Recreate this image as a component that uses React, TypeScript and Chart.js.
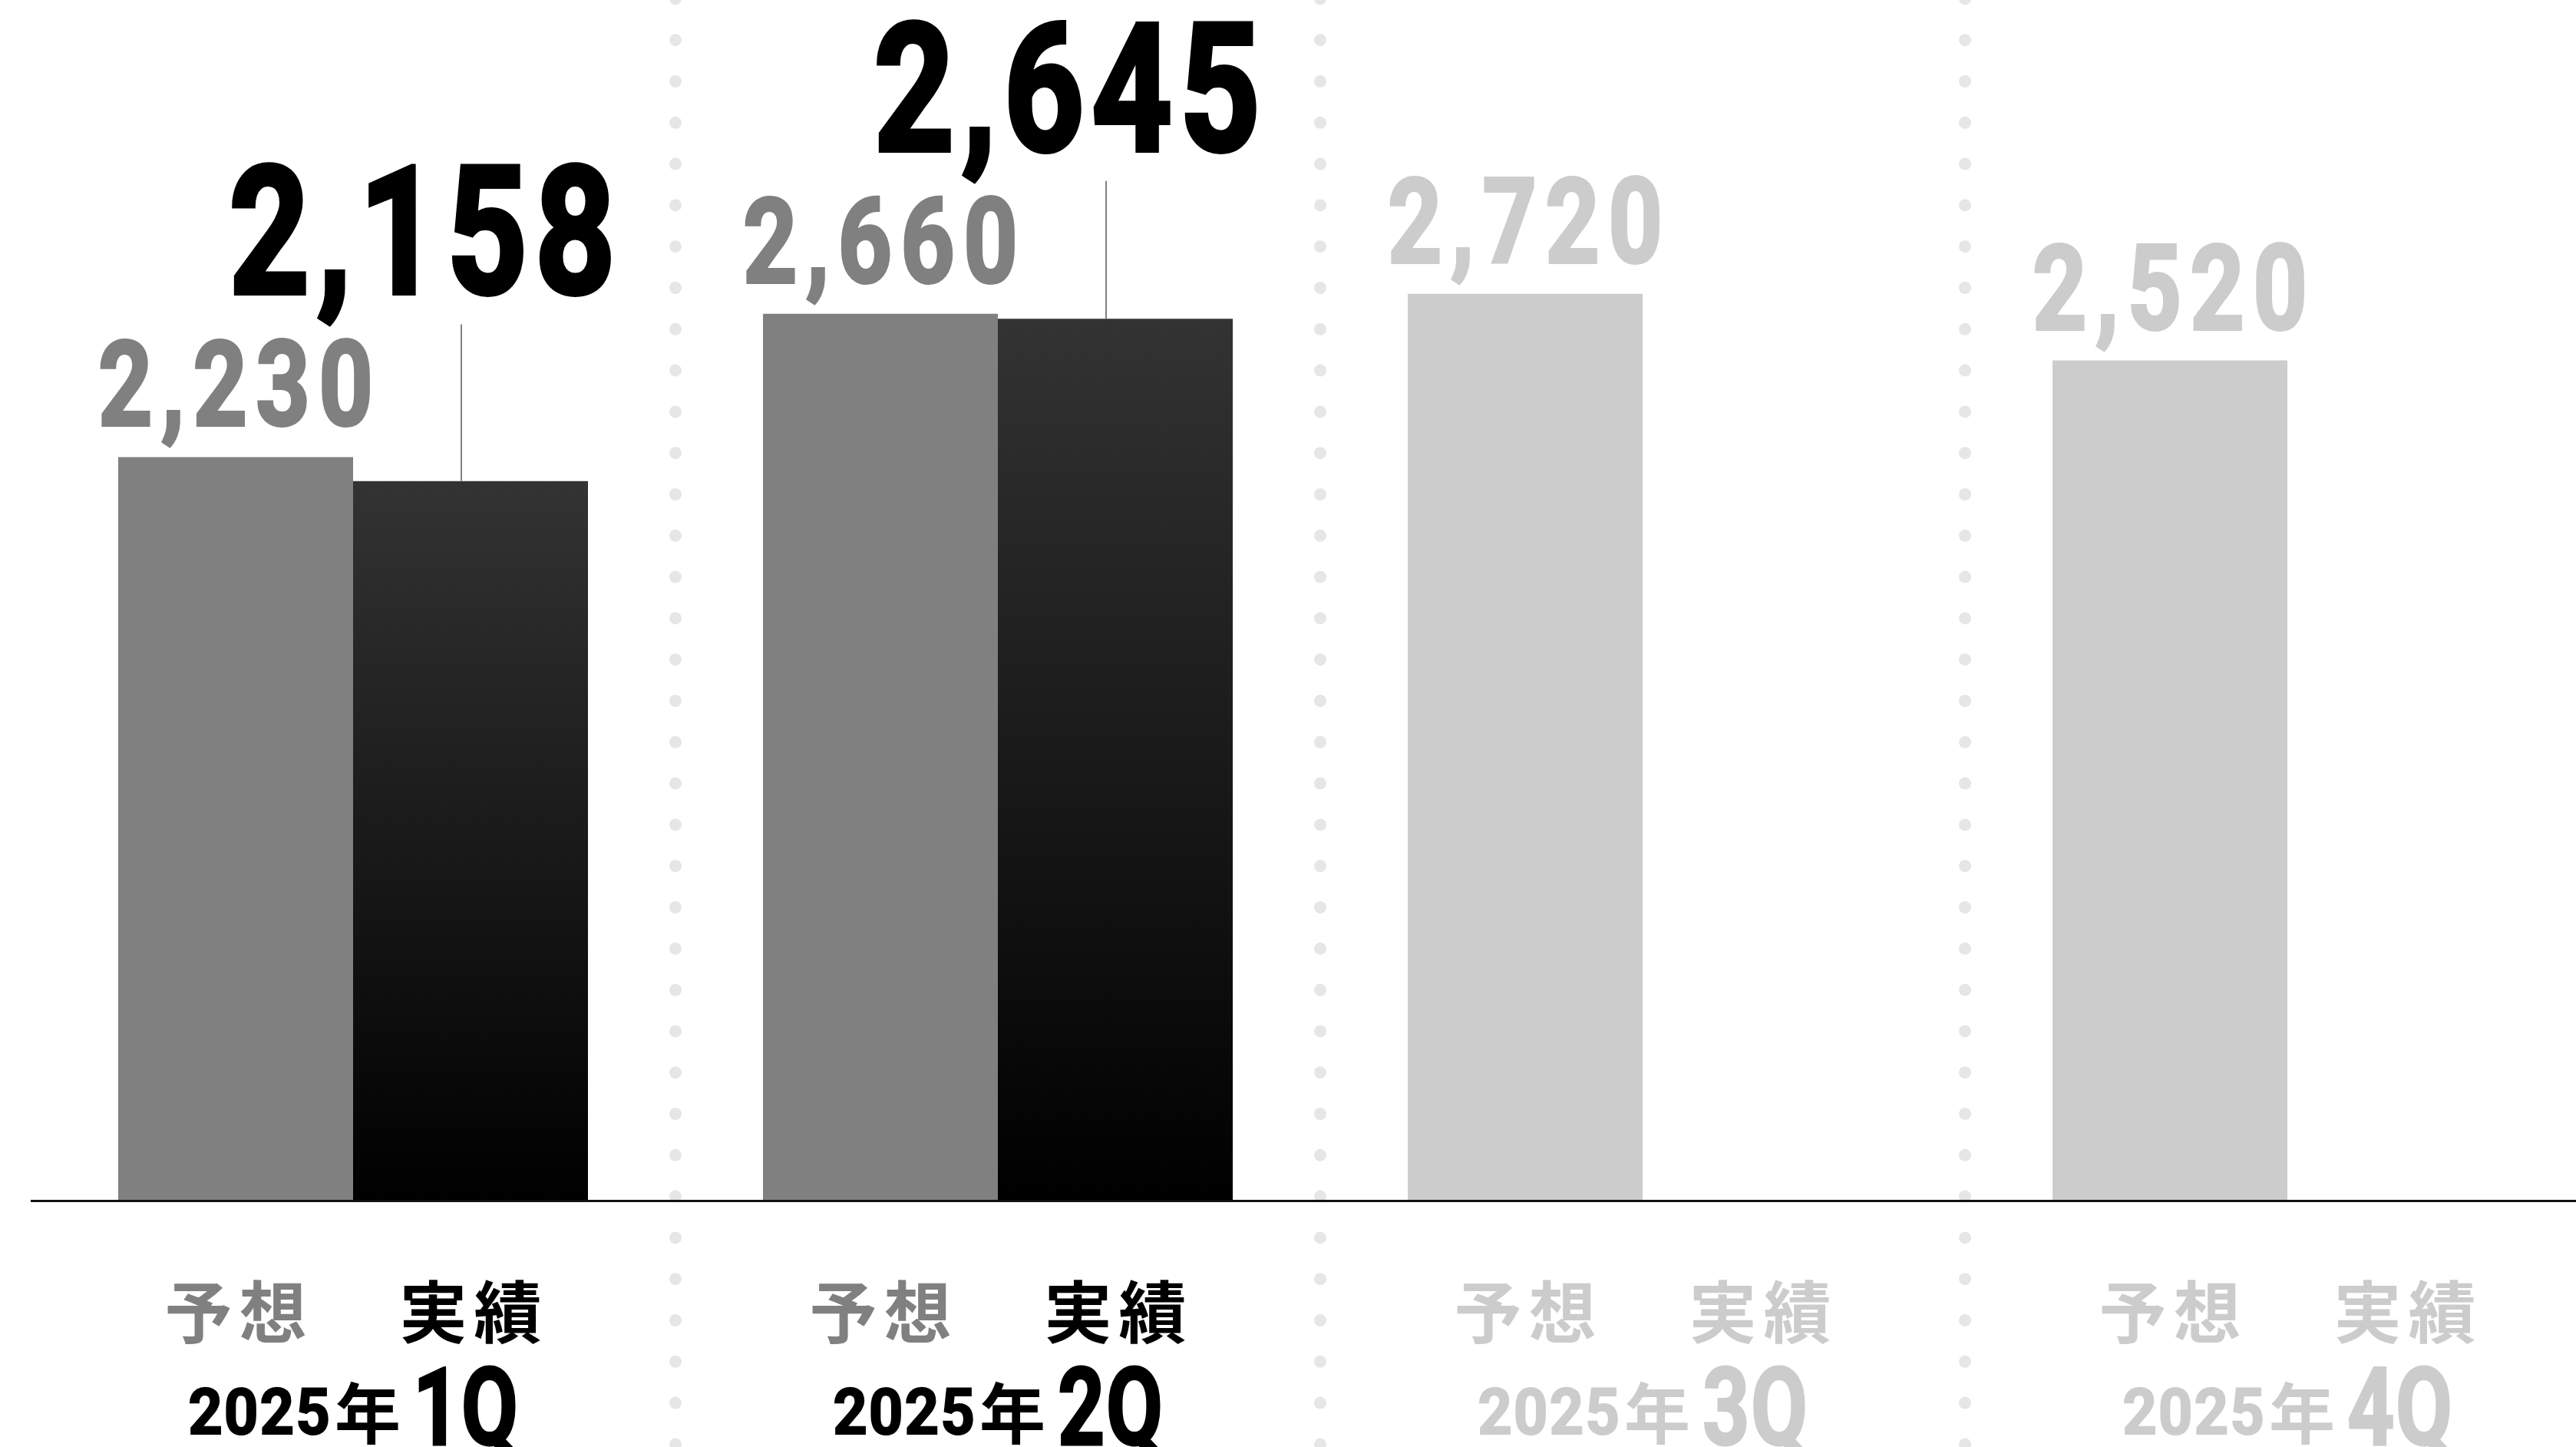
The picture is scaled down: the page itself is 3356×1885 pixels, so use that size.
import React, { useEffect, useRef } from 'react';
import { Chart, registerables } from 'chart.js';

Chart.register(...registerables);

// ---- data ----
const years = ['2025年', '2025年', '2025年', '2025年'];
const quarters = ['1Q', '2Q', '3Q', '4Q'];
const seriesNames = ['予想', '実績'];
const forecastValues = [2230, 2660, 2720, 2520];
const actualValues: (number | null)[] = [2158, 2645, null, null];
const yMax = 3600;

// ---- styles ----
const GRAY = '#808080';
const PALE = '#cccccc';
const BLACK = '#000000';
const DOT = '#e6e6e6';
const NUM_FONT = 'Roboto, "Liberation Sans", sans-serif';
const CJK_FONT = '"Noto Sans CJK JP", "Noto Sans CJK SC", sans-serif';
const CAT_PCT = 612 / 840;

const isDone = (i: number) => actualValues[i] != null;

function textWidth(ctx: CanvasRenderingContext2D, text: string, font: string, ls: number, sx = 1) {
  ctx.font = font;
  (ctx as any).letterSpacing = '0px';
  const w0 = ctx.measureText(text).width;
  return (w0 + ls * (text.length - 1)) * sx;
}

function drawAt(ctx: CanvasRenderingContext2D, text: string, left: number, y: number, font: string, color: string, ls: number, sx = 1, baseline: CanvasTextBaseline = 'alphabetic', stroke = 0) {
  ctx.save();
  ctx.translate(left, y);
  ctx.scale(sx, 1);
  ctx.font = font;
  (ctx as any).letterSpacing = ls + 'px';
  ctx.fillStyle = color;
  ctx.textAlign = 'left';
  ctx.textBaseline = baseline;
  ctx.fillText(text, 0, 0);
  if (stroke > 0) {
    ctx.strokeStyle = color;
    ctx.lineWidth = stroke;
    ctx.lineJoin = 'miter';
    ctx.strokeText(text, 0, 0);
  }
  ctx.restore();
}

function drawCentered(ctx: CanvasRenderingContext2D, text: string, cx: number, y: number, font: string, color: string, ls: number, sx = 1, baseline: CanvasTextBaseline = 'alphabetic', stroke = 0) {
  const w = textWidth(ctx, text, font, ls, sx);
  drawAt(ctx, text, cx - w / 2, y, font, color, ls, sx, baseline, stroke);
}

const decoPlugin = {
  id: 'deco',
  beforeDatasetsDraw(chart: any) {
    const { ctx, scales } = chart;
    const x = scales.x;
    ctx.save();
    ctx.fillStyle = DOT;
    for (let i = 1; i < quarters.length; i++) {
      const bx = (x.getPixelForValue(i - 1) + x.getPixelForValue(i)) / 2;
      for (let n = -2; n < 37; n++) {
        const cy = 106 + 53.8 * n;
        ctx.beginPath();
        ctx.arc(bx, cy, 8, 0, Math.PI * 2);
        ctx.fill();
      }
    }
    ctx.restore();
  },
  afterDatasetsDraw(chart: any) {
    const { ctx, scales, chartArea } = chart;
    const x = scales.x;
    const y = scales.y;
    const base = y.getPixelForValue(0);
    ctx.save();

    // baseline
    ctx.strokeStyle = '#111111';
    ctx.lineWidth = 3;
    ctx.beginPath();
    ctx.moveTo(chartArea.left, base + 1.5);
    ctx.lineTo(chart.width, base + 1.5);
    ctx.stroke();

    const meta0 = chart.getDatasetMeta(0);
    const meta1 = chart.getDatasetMeta(1);
    const slot = (x.width / quarters.length) * CAT_PCT / 2;

    for (let i = 0; i < quarters.length; i++) {
      const done = isDone(i);
      const el0 = meta0.data[i];
      // forecast value label
      drawCentered(ctx, forecastValues[i].toLocaleString('en-US'), el0.x, el0.y - 41,
        `bold 154px ${NUM_FONT}`, done ? GRAY : PALE, 14, 0.8, 'alphabetic', 4);

      // actual value label + leader line
      if (done) {
        const el1 = meta1.data[i];
        const lblBase = el0.y - 213;
        drawCentered(ctx, (actualValues[i] as number).toLocaleString('en-US'), el1.x - 63, lblBase,
          `bold 232px ${NUM_FONT}`, BLACK, 12, 0.79, 'alphabetic', 6);
        ctx.strokeStyle = GRAY;
        ctx.lineWidth = 2;
        ctx.beginPath();
        ctx.moveTo(el1.x - 12, lblBase + 40);
        ctx.lineTo(el1.x - 12, el1.y);
        ctx.stroke();
      }

      // category labels
      const cx = x.getPixelForValue(i);
      drawCentered(ctx, seriesNames[0], cx - slot / 2, base + 146, `bold 88px ${CJK_FONT}`, done ? GRAY : PALE, 9, 1, 'middle');
      drawCentered(ctx, seriesNames[1], cx + slot / 2, base + 146, `bold 88px ${CJK_FONT}`, done ? BLACK : PALE, 9, 1, 'middle');

      const color = done ? BLACK : PALE;
      const m = years[i].match(/^(\d+)(.*)$/);
      const digits = m ? m[1] : years[i];
      const suffix = m ? m[2] : '';
      const fDigits = `bold 84px ${NUM_FONT}`;
      const fSuffix = `bold 86px ${CJK_FONT}`;
      const fQ = `bold 141px ${NUM_FONT}`;
      const sxD = 0.93;
      const sxQ = 0.76;
      const wD = textWidth(ctx, digits, fDigits, 2, sxD) + 6;
      const wS = suffix ? textWidth(ctx, suffix, fSuffix, 0) : 0;
      const gap = 16;
      const wQ = textWidth(ctx, quarters[i], fQ, 2, sxQ);
      const total = wD + wS + gap + wQ;
      let left = cx - total / 2;
      drawAt(ctx, digits, left, base + 305, fDigits, color, 2, sxD, 'alphabetic', 2);
      left += wD;
      if (suffix) drawAt(ctx, suffix, left, base + 311, fSuffix, color, 0);
      left += wS + gap;
      drawAt(ctx, quarters[i], left, base + 319, fQ, color, 2, sxQ, 'alphabetic', 3);
    }
    ctx.restore();
  },
};

export default function App() {
  const ref = useRef<HTMLCanvasElement | null>(null);

  useEffect(() => {
    if (!ref.current) return;
    const chart = new Chart(ref.current, {
      type: 'bar',
      data: {
        labels: quarters.map((q, i) => `${years[i]} ${q}`),
        datasets: [
          {
            label: seriesNames[0],
            data: forecastValues,
            backgroundColor: forecastValues.map((_, i) => (isDone(i) ? GRAY : PALE)),
            borderWidth: 0,
            categoryPercentage: CAT_PCT,
            barPercentage: 1,
          },
          {
            label: seriesNames[1],
            data: actualValues,
            backgroundColor: (c: any) => {
              const ch = c.chart;
              if (!ch.chartArea || c.raw == null) return BLACK;
              const top = ch.scales.y.getPixelForValue(c.raw);
              const bottom = ch.scales.y.getPixelForValue(0);
              const g = ch.ctx.createLinearGradient(0, top, 0, bottom);
              g.addColorStop(0, '#333333');
              g.addColorStop(1, '#000000');
              return g;
            },
            borderWidth: 0,
            categoryPercentage: CAT_PCT,
            barPercentage: 1,
          },
        ],
      },
      options: {
        animation: false,
        responsive: false,
        devicePixelRatio: 1,
        layout: { padding: { left: 40, right: 0, top: 1, bottom: 322 } },
        plugins: { legend: { display: false }, tooltip: { enabled: false } },
        scales: {
          x: { display: false, offset: true, grid: { display: false } },
          y: { display: false, min: 0, max: yMax, grid: { display: false } },
        },
      },
      plugins: [decoPlugin],
    });
    return () => chart.destroy();
  }, []);

  return (
    <div style={{ position: 'fixed', left: 0, top: 0, width: 3356, height: 1885, overflow: 'hidden', background: '#ffffff' }}>
      <canvas ref={ref} width={3400} height={1885} style={{ display: 'block', width: 3400, height: 1885 }} />
    </div>
  );
}
